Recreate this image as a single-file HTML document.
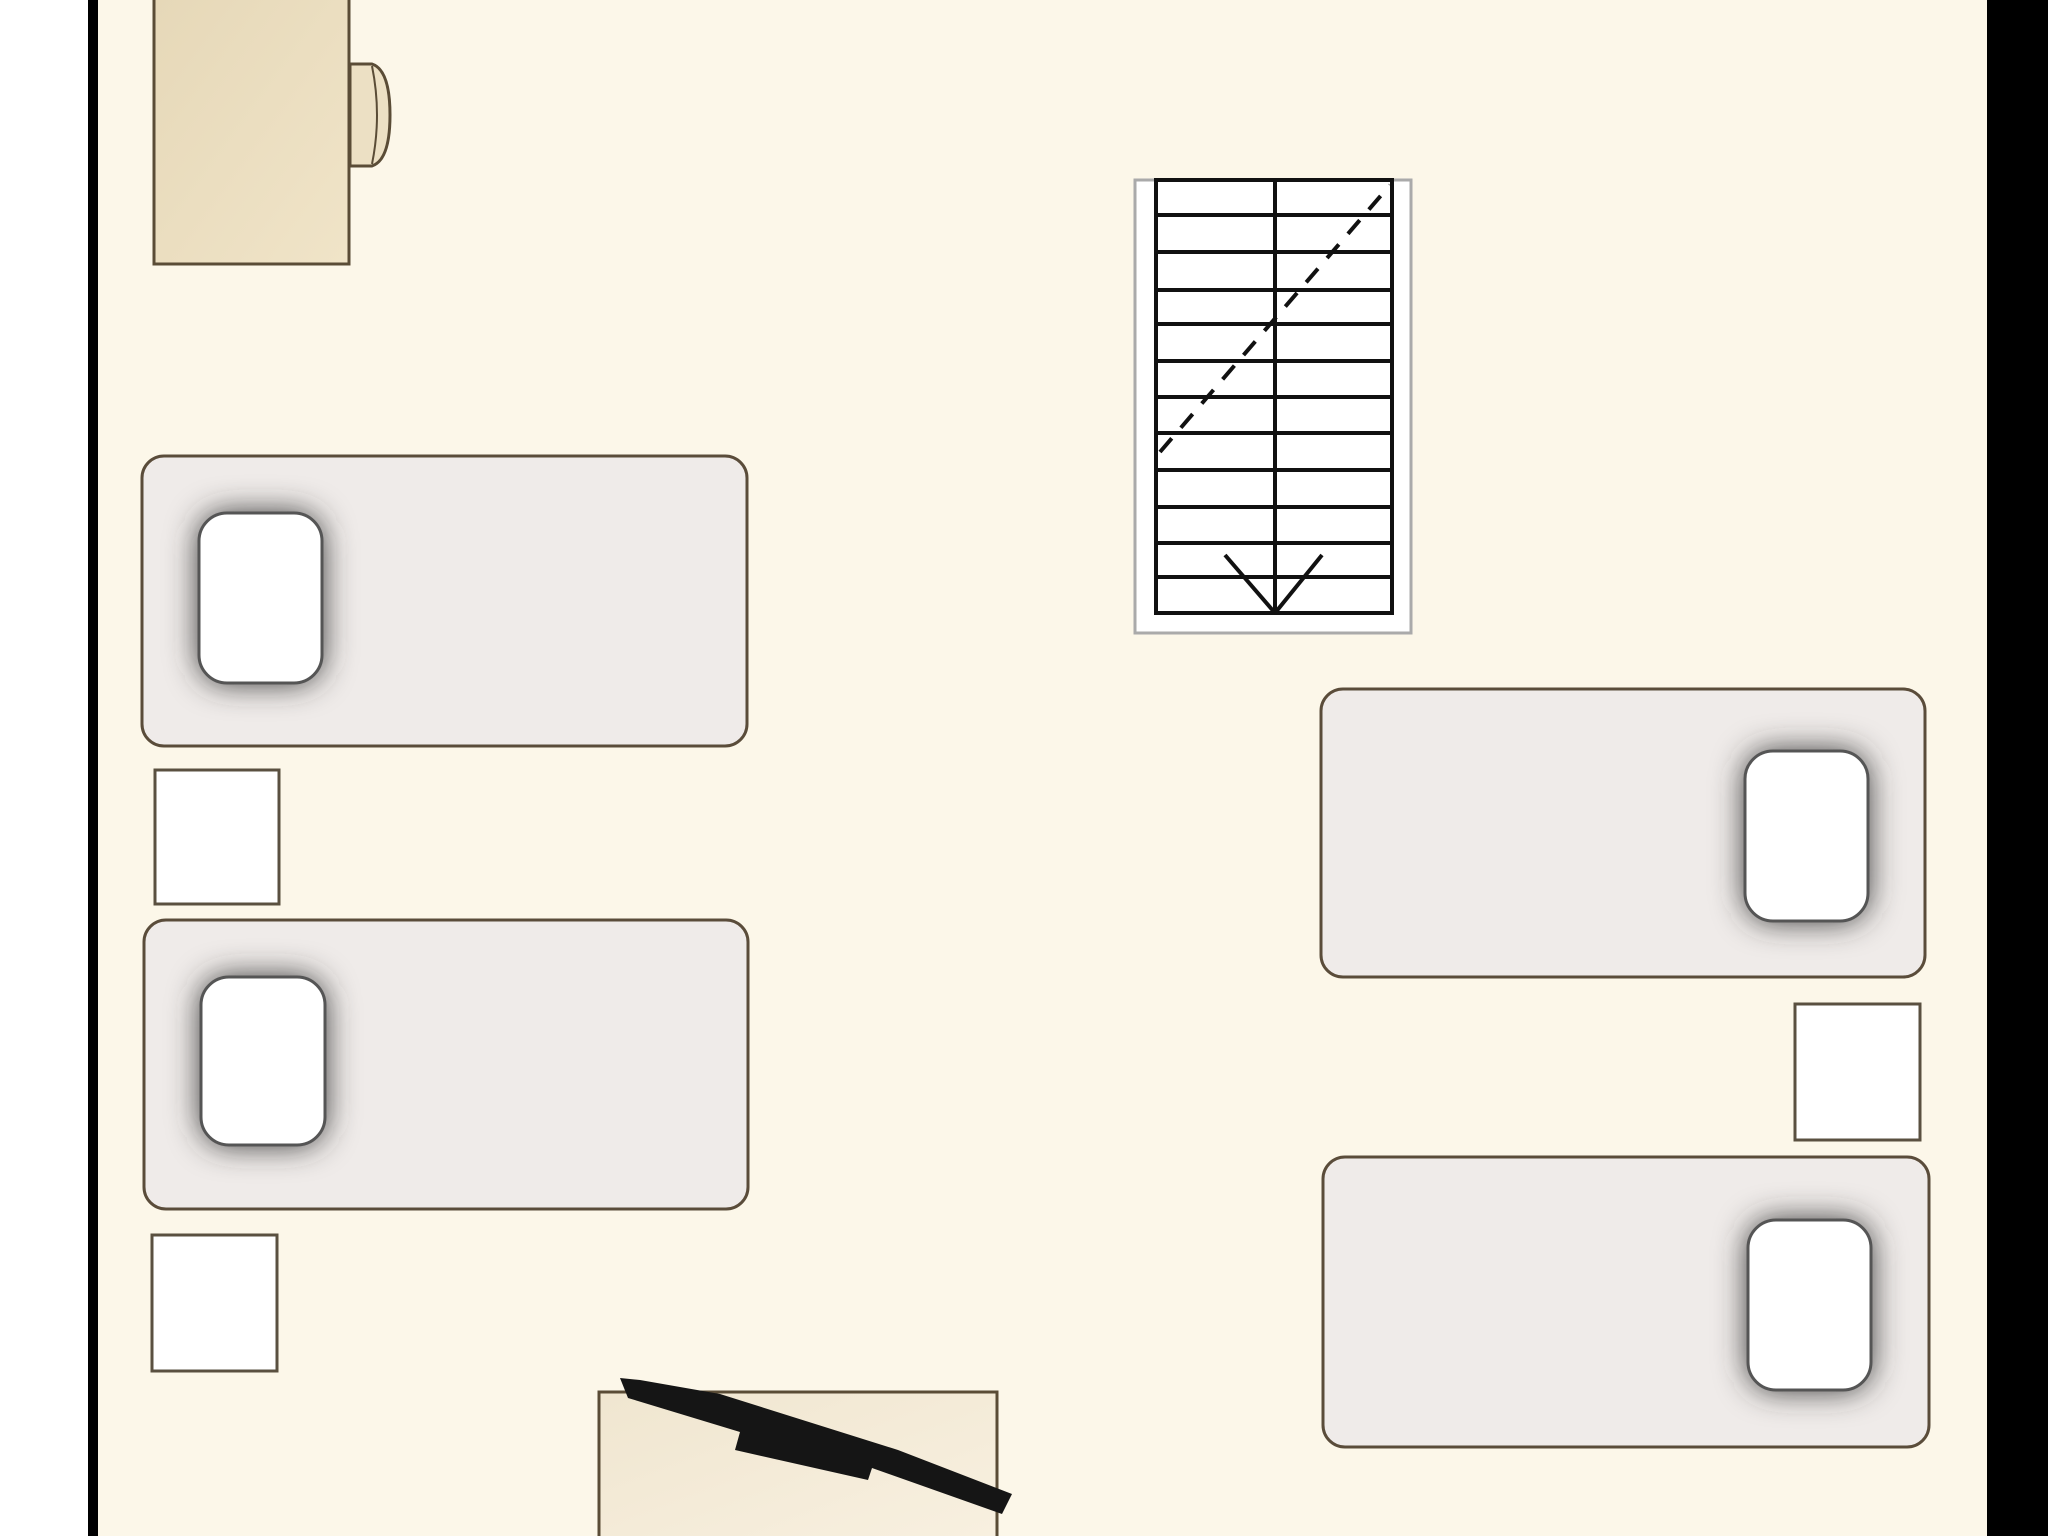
<!DOCTYPE html>
<html><head><meta charset="utf-8"><style>
html,body{margin:0;padding:0;width:2048px;height:1536px;overflow:hidden;background:#fff}
svg{display:block}
</style></head><body>
<svg width="2048" height="1536" viewBox="0 0 2048 1536" xmlns="http://www.w3.org/2000/svg">
<defs>
<filter id="sh" x="-60%" y="-60%" width="220%" height="220%"><feGaussianBlur stdDeviation="16"/></filter>
<linearGradient id="desk" x1="0" y1="0" x2="1" y2="1"><stop offset="0" stop-color="#e6d8b8"/><stop offset="1" stop-color="#f0e4c8"/></linearGradient>
<linearGradient id="desk2" x1="0" y1="0" x2="1" y2="1"><stop offset="0" stop-color="#f0e6d0"/><stop offset="1" stop-color="#f8f0e0"/></linearGradient>
</defs>
<rect x="0" y="0" width="2048" height="1536" fill="#ffffff"/>
<rect x="97" y="0" width="1890" height="1536" fill="#fcf7e9"/>
<rect x="88" y="0" width="10" height="1536" fill="#000"/>
<rect x="1987" y="0" width="61" height="1536" fill="#000"/>

<rect x="154" y="-4" width="195" height="268" fill="url(#desk)" stroke="#5a4c36" stroke-width="3"/>
<path d="M350 64 L372 64 Q390 70 390 115 Q390 160 372 166 L350 166 Z" fill="#ece0c4" stroke="#5a4c36" stroke-width="3"/>
<path d="M372 66 Q382 115 372 164" fill="none" stroke="#5a4c36" stroke-width="2"/>

<rect x="1135" y="180" width="276" height="453" fill="#fff" stroke="#aaa" stroke-width="3"/>
<g stroke="#111" stroke-width="4" fill="none">
<rect x="1156" y="180" width="236" height="433"/>
<line x1="1275" y1="180" x2="1275" y2="613"/>
<line x1="1156" y1="215" x2="1392" y2="215"/>
<line x1="1156" y1="252" x2="1392" y2="252"/>
<line x1="1156" y1="290" x2="1392" y2="290"/>
<line x1="1156" y1="324" x2="1392" y2="324"/>
<line x1="1156" y1="361" x2="1392" y2="361"/>
<line x1="1156" y1="397" x2="1392" y2="397"/>
<line x1="1156" y1="433" x2="1392" y2="433"/>
<line x1="1156" y1="470" x2="1392" y2="470"/>
<line x1="1156" y1="507" x2="1392" y2="507"/>
<line x1="1156" y1="543" x2="1392" y2="543"/>
<line x1="1156" y1="577" x2="1392" y2="577"/>
<line x1="1225" y1="555" x2="1275" y2="613"/>
<line x1="1322" y1="555" x2="1275" y2="613"/>
<line x1="1160" y1="452" x2="1390" y2="185" stroke-dasharray="18 14"/>
</g>

<g>
<rect x="142" y="456" width="605" height="290" rx="22" fill="#efebe9" stroke="#5a4c3a" stroke-width="3"/>
<rect x="199" y="513" width="123" height="170" rx="28" fill="#333" filter="url(#sh)"/>
<rect x="199" y="513" width="123" height="170" rx="28" fill="#fff" stroke="#555" stroke-width="3"/>

<rect x="144" y="920" width="604" height="289" rx="22" fill="#efebe9" stroke="#5a4c3a" stroke-width="3"/>
<rect x="201" y="977" width="124" height="168" rx="28" fill="#333" filter="url(#sh)"/>
<rect x="201" y="977" width="124" height="168" rx="28" fill="#fff" stroke="#555" stroke-width="3"/>

<rect x="1321" y="689" width="604" height="288" rx="22" fill="#efebe9" stroke="#5a4c3a" stroke-width="3"/>
<rect x="1745" y="751" width="123" height="170" rx="28" fill="#333" filter="url(#sh)"/>
<rect x="1745" y="751" width="123" height="170" rx="28" fill="#fff" stroke="#555" stroke-width="3"/>

<rect x="1323" y="1157" width="606" height="290" rx="22" fill="#efebe9" stroke="#5a4c3a" stroke-width="3"/>
<rect x="1748" y="1220" width="123" height="170" rx="28" fill="#333" filter="url(#sh)"/>
<rect x="1748" y="1220" width="123" height="170" rx="28" fill="#fff" stroke="#555" stroke-width="3"/>
</g>

<g fill="#fff" stroke="#5a5040" stroke-width="3">
<rect x="155" y="770" width="124" height="134"/>
<rect x="152" y="1235" width="125" height="136"/>
<rect x="1795" y="1004" width="125" height="136"/>
</g>

<rect x="599" y="1392" width="398" height="150" fill="url(#desk2)" stroke="#5a4c36" stroke-width="3"/>
<polygon points="620,1378 628,1398 740,1432 735,1450 868,1480 872,1468 1002,1514 1012,1494 898,1450 720,1394 640,1380" fill="#151515"/>
</svg>
</body></html>
